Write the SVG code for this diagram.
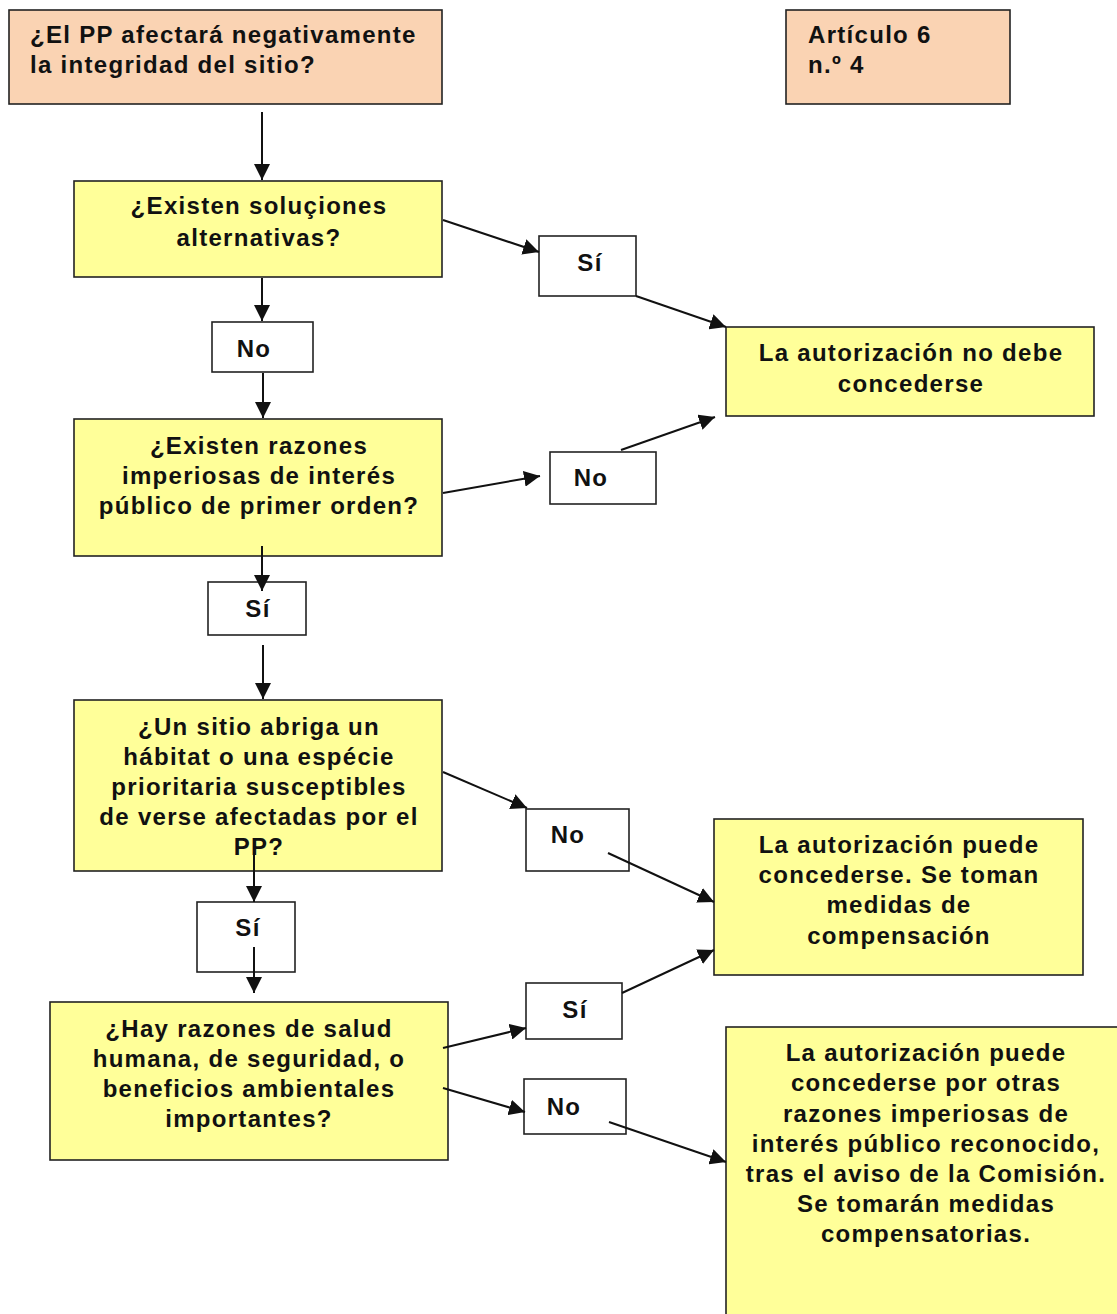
<svg xmlns="http://www.w3.org/2000/svg" width="1117" height="1314" viewBox="0 0 1117 1314">
  <style>
    .box { stroke: #222; stroke-width: 1.6; }
    .peach { fill: #FAD3B3; }
    .yellow { fill: #FFFF99; }
    .lbl { fill: #ffffff; stroke: #222; stroke-width: 1.6; }
    text { font-family: "Liberation Sans", Arial, sans-serif; font-weight: bold; font-size: 24px; letter-spacing: 1.3px; fill: #111; }
    .c { text-anchor: middle; }
    .edge { stroke: #111; stroke-width: 2; fill: none; marker-end: url(#arrow); }
  </style>
  <defs>
    <marker id="arrow" markerUnits="userSpaceOnUse" markerWidth="17" markerHeight="16" refX="16" refY="8" orient="auto">
      <path d="M0,0 L16,8 L0,16 z" fill="#111"/>
    </marker>
  </defs>
  <rect width="1117" height="1314" fill="#ffffff"/>

  <!-- question: site integrity -->
  <g id="q-integridad">
    <rect class="box peach" x="9" y="10" width="433" height="94"/>
    <text x="30" y="43">¿El PP afectará negativamente</text>
    <text x="30" y="73">la integridad del sitio?</text>
  </g>

  <!-- article reference -->
  <g id="articulo">
    <rect class="box peach" x="786" y="10" width="224" height="94"/>
    <text x="808" y="43">Artículo 6</text>
    <text x="808" y="73">n.º 4</text>
  </g>

  <g id="q-alternativas">
    <rect class="box yellow" x="74" y="181" width="368" height="96"/>
    <text class="c" x="259" y="214">¿Existen soluçiones</text>
    <text class="c" x="259" y="246">alternativas?</text>
  </g>

  <g id="lbl-si-1">
    <rect class="lbl" x="539" y="236" width="97" height="60"/>
    <text class="c" x="590" y="271">Sí</text>
  </g>

  <g id="r-no-debe">
    <rect class="box yellow" x="726" y="327" width="368" height="89"/>
    <text class="c" x="911" y="361">La autorización no debe</text>
    <text class="c" x="911" y="392">concederse</text>
  </g>

  <g id="lbl-no-1">
    <rect class="lbl" x="212" y="322" width="101" height="50"/>
    <text class="c" x="254" y="357">No</text>
  </g>

  <g id="q-razones">
    <rect class="box yellow" x="74" y="419" width="368" height="137"/>
    <text class="c" x="259" y="454">¿Existen razones</text>
    <text class="c" x="259" y="484">imperiosas de interés</text>
    <text class="c" x="259" y="514">público de primer orden?</text>
  </g>

  <g id="lbl-no-2">
    <rect class="lbl" x="550" y="452" width="106" height="52"/>
    <text class="c" x="591" y="486">No</text>
  </g>

  <g id="lbl-si-2">
    <rect class="lbl" x="208" y="582" width="98" height="53"/>
    <text class="c" x="258" y="617">Sí</text>
  </g>

  <g id="q-prioritario">
    <rect class="box yellow" x="74" y="700" width="368" height="171"/>
    <text class="c" x="259" y="735">¿Un sitio abriga un</text>
    <text class="c" x="259" y="765">hábitat o una espécie</text>
    <text class="c" x="259" y="795">prioritaria susceptibles</text>
    <text class="c" x="259" y="825">de verse afectadas por el</text>
    <text class="c" x="259" y="855">PP?</text>
  </g>

  <g id="lbl-no-3">
    <rect class="lbl" x="526" y="809" width="103" height="62"/>
    <text class="c" x="568" y="843">No</text>
  </g>

  <g id="r-compensacion">
    <rect class="box yellow" x="714" y="819" width="369" height="156"/>
    <text class="c" x="899" y="853">La autorización puede</text>
    <text class="c" x="899" y="883">concederse. Se toman</text>
    <text class="c" x="899" y="913">medidas de</text>
    <text class="c" x="899" y="944">compensación</text>
  </g>

  <g id="lbl-si-3">
    <rect class="lbl" x="197" y="902" width="98" height="70"/>
    <text class="c" x="248" y="936">Sí</text>
  </g>

  <g id="q-salud">
    <rect class="box yellow" x="50" y="1002" width="398" height="158"/>
    <text class="c" x="249" y="1037">¿Hay razones de salud</text>
    <text class="c" x="249" y="1067">humana, de seguridad, o</text>
    <text class="c" x="249" y="1097">beneficios ambientales</text>
    <text class="c" x="249" y="1127">importantes?</text>
  </g>

  <g id="lbl-si-4">
    <rect class="lbl" x="526" y="983" width="96" height="56"/>
    <text class="c" x="575" y="1018">Sí</text>
  </g>

  <g id="lbl-no-4">
    <rect class="lbl" x="524" y="1079" width="102" height="55"/>
    <text class="c" x="564" y="1115">No</text>
  </g>

  <g id="r-otras-razones">
    <rect class="box yellow" x="726" y="1027" width="400" height="300"/>
    <text class="c" x="926" y="1061">La autorización puede</text>
    <text class="c" x="926" y="1091">concederse por otras</text>
    <text class="c" x="926" y="1122">razones imperiosas de</text>
    <text class="c" x="926" y="1152">interés público reconocido,</text>
    <text class="c" x="926" y="1182">tras el aviso de la Comisión.</text>
    <text class="c" x="926" y="1212">Se tomarán medidas</text>
    <text class="c" x="926" y="1242">compensatorias.</text>
  </g>

  <!-- connectors, drawn over the boxes so lines that start inside a box stay visible -->
  <g id="connectors">
    <line class="edge" x1="262" y1="112" x2="262" y2="180"/>
    <line class="edge" x1="443" y1="220" x2="539" y2="252"/>
    <line class="edge" x1="636" y1="296" x2="726" y2="327"/>
    <line class="edge" x1="262" y1="278" x2="262" y2="321"/>
    <line class="edge" x1="263" y1="373" x2="263" y2="418"/>
    <line class="edge" x1="443" y1="493" x2="540" y2="476"/>
    <line class="edge" x1="621" y1="450" x2="715" y2="417"/>
    <line class="edge" x1="262" y1="546" x2="262" y2="591"/>
    <line class="edge" x1="263" y1="645" x2="263" y2="699"/>
    <line class="edge" x1="443" y1="772" x2="527" y2="808"/>
    <line class="edge" x1="608" y1="853" x2="714" y2="902"/>
    <line class="edge" x1="254" y1="852" x2="254" y2="902"/>
    <line class="edge" x1="254" y1="947" x2="254" y2="993"/>
    <line class="edge" x1="443" y1="1048" x2="526" y2="1028"/>
    <line class="edge" x1="622" y1="993" x2="714" y2="950"/>
    <line class="edge" x1="443" y1="1088" x2="525" y2="1112"/>
    <line class="edge" x1="609" y1="1122" x2="726" y2="1162"/>
  </g>
</svg>
